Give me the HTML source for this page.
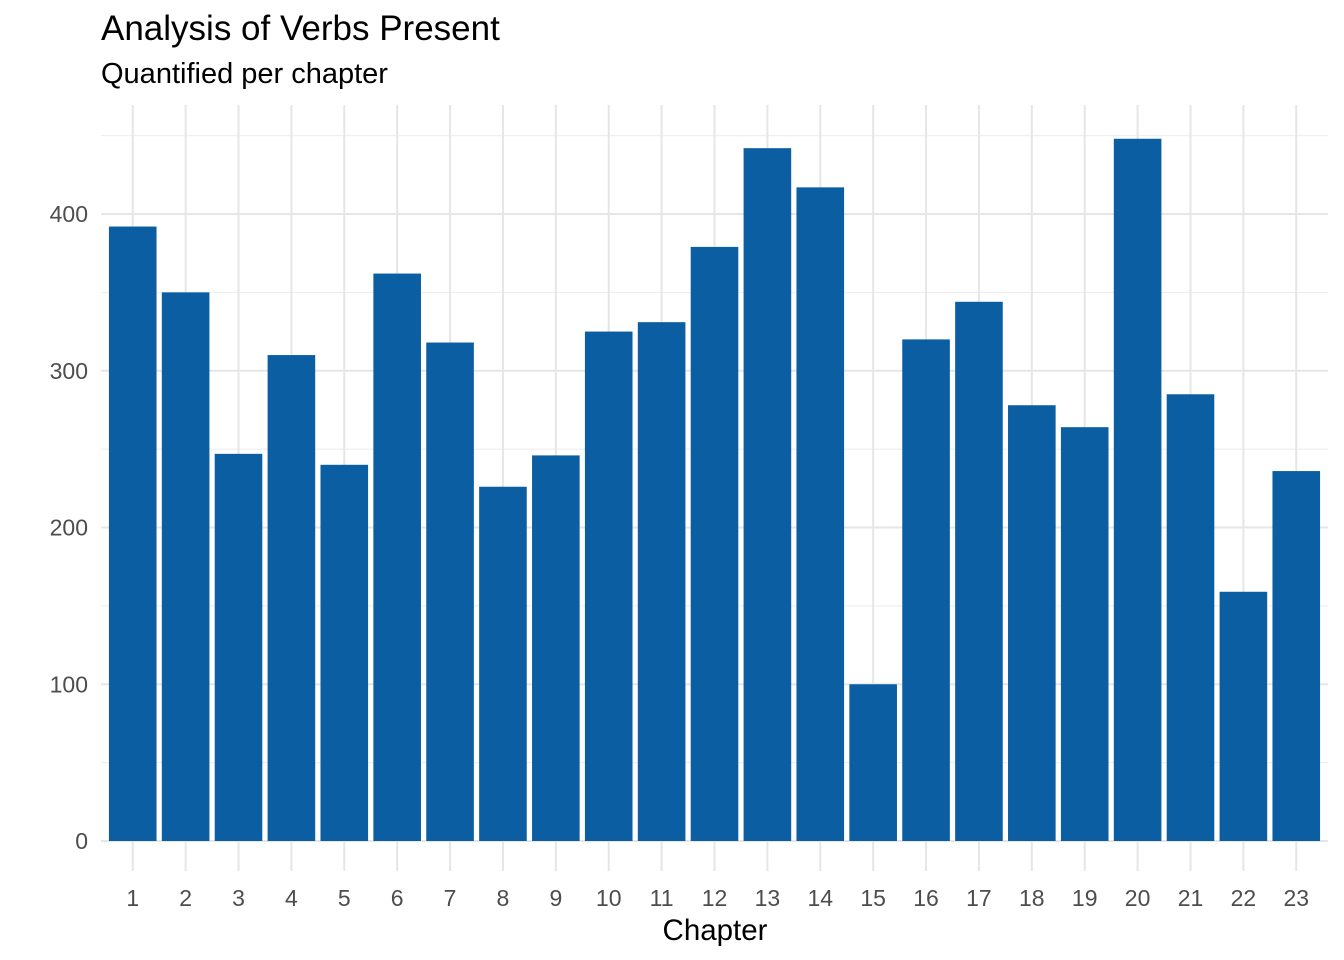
<!DOCTYPE html>
<html><head><meta charset="utf-8"><style>
body{margin:0;background:#fff;font-family:"Liberation Sans",Arial,sans-serif}
svg{display:block}
</style></head><body>
<svg id="chart" width="1344" height="960">
<text x="101" y="40" font-size="35" fill="#000">Analysis of Verbs Present</text>
<text x="101" y="83" font-size="29" fill="#000">Quantified per chapter</text>
<g id="grid"></g><g id="bars"></g><g id="ticks"></g>
<text x="715" y="940" font-size="29.5" text-anchor="middle" fill="#000">Chapter</text>
</svg>
<script>
const categories=["1","2","3","4","5","6","7","8","9","10","11","12","13","14","15","16","17","18","19","20","21","22","23"];
const values=[392,350,247,310,240,362,318,226,246,325,331,379,442,417,100,320,344,278,264,448,285,159,236];
const yTicks=[0,100,200,300,400];
const ns="http://www.w3.org/2000/svg";
const px0=101,px1=1328,y0=841,perUnit=(841-214)/400;
const step=(px1-px0)/(categories.length+0.2);
const xc=i=>px0+step*(i+0.6);
const y=v=>y0-v*perUnit;
function mk(t,a,p){const e=document.createElementNS(ns,t);for(const k in a)e.setAttribute(k,a[k]);p.appendChild(e);return e;}
const grid=document.getElementById('grid'),bars=document.getElementById('bars'),ticks=document.getElementById('ticks');
for(let v=50;v<=450;v+=100){const l=mk('line',{x1:px0,x2:px1,y1:y(v),y2:y(v),stroke:'#ebebeb','stroke-width':1},grid);

}
yTicks.forEach(v=>{const l=mk('line',{x1:px0,x2:px1,y1:y(v),y2:y(v),stroke:'#e6e6e6','stroke-width':2},grid);


const t=mk('text',{x:88,y:y(v)+8,'font-size':23,'text-anchor':'end',fill:'#4d4d4d'},ticks);t.textContent=v;

});
categories.forEach((c,i)=>{const l=mk('line',{x1:xc(i),x2:xc(i),y1:105,y2:y0+30,stroke:'#e6e6e6','stroke-width':2},grid);


const w=step*0.9;
const r=mk('rect',{x:xc(i)-w/2,y:y(values[i]),width:w,height:y0-y(values[i]),fill:'#0b5ea2'},bars);


const t=mk('text',{x:xc(i),y:906,'font-size':23,'text-anchor':'middle',fill:'#4d4d4d'},ticks);t.textContent=c;

});
</script>
</body></html>
